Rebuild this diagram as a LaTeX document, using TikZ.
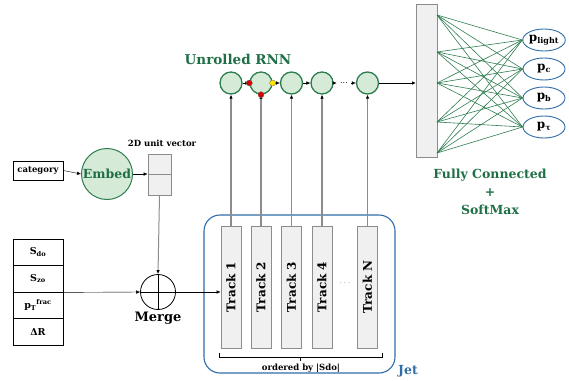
\documentclass[tikz,border=0pt]{standalone}
\usepackage{fontspec}
\setmainfont{DejaVu Serif}
\usetikzlibrary{arrows.meta,shapes.geometric}
\definecolor{gr}{HTML}{2E7D4F}
\definecolor{grtext}{HTML}{1F6F45}
\definecolor{grfill}{HTML}{D5EBD7}
\definecolor{bl}{HTML}{2F6CA8}
\definecolor{gbox}{HTML}{F0F0F0}
\definecolor{gline}{HTML}{8C8C8C}
\tikzset{
  arr/.style={-{Latex[length=4pt,width=3.5pt]}},
  garr/.style={gline, line width=1.3pt, -{Latex[length=4pt,width=3.5pt,color=black]}},
  featbox/.style={draw, line width=0.8pt, minimum width=50pt, minimum height=26.5pt, inner sep=0pt, font=\bfseries\fontsize{9.5}{10}\selectfont},
  trk/.style={draw=gline, fill=gbox, line width=0.9pt, minimum width=20pt, minimum height=122pt, inner sep=0pt},
  trklabel/.style={rotate=90, font=\bfseries\fontsize{12}{13}\selectfont},
  rnn/.style={circle, draw=gr, fill=grfill, line width=1.3pt, minimum size=22pt, inner sep=0pt},
  outell/.style={ellipse, draw=bl, line width=0.9pt, minimum width=42pt, minimum height=22pt, inner sep=0pt, font=\bfseries\fontsize{12}{13}\selectfont},
  fcline/.style={gr, line width=0.6pt},
  dotnode/.style={circle, inner sep=0pt, minimum size=6pt, draw=black!60, line width=0.3pt}
}
\begin{document}
\begin{tikzpicture}[x=1pt,y=-1pt]
\useasboundingbox (0,0) rectangle (569,380);

% category & embed
\node[draw, line width=0.8pt, minimum width=50pt, minimum height=19pt, inner sep=0pt, font=\bfseries\fontsize{8.5}{9}\selectfont] (cat) at (38,170.5) {category};
\node[circle, draw=gr, fill=grfill, line width=1pt, minimum size=51pt, inner sep=0pt, text=grtext, font=\bfseries\fontsize{12.5}{13}\selectfont] (emb) at (107,174) {Embed};
\node[draw=gline, fill=gbox, line width=0.8pt, minimum width=23pt, minimum height=20.5pt, inner sep=0pt] (v1) at (159.5,164.25) {};
\node[draw=gline, fill=gbox, line width=0.8pt, minimum width=23pt, minimum height=20.5pt, inner sep=0pt] (v2) at (159.5,184.75) {};
\node[font=\bfseries\fontsize{8.5}{9}\selectfont] (vlab) at (162,143) {2D unit vector};
\draw[arr] (cat.east) -- (emb.west);
\draw[arr] (emb.east) -- (emb.east -| v1.west);

% features
\node[featbox] (f1) at (38,252.25) {S\textsubscript{do}};
\node[featbox] (f2) at (38,278.75) {S\textsubscript{zo}};
\node[featbox] (f3) at (38,305.25) {p\textsubscript{T}\textsuperscript{frac}};
\node[featbox] (f4) at (38,331.75) {ΔR};

% merge
\node[circle, draw, line width=0.8pt, minimum size=35pt, inner sep=0pt] (mg) at (158,292) {};
\draw[line width=0.6pt] (mg.north) -- (mg.south) (mg.west) -- (mg.east);
\node[font=\bfseries\fontsize{13}{14}\selectfont] (mglab) at (158,318) {Merge};
\draw[gline, line width=1pt, -{Latex[length=4pt,width=3.5pt,color=black]}] (v2.south) -- (mg.north);
\draw[arr] (f2.south east) -- (mg.west);

% jet
\node[draw=bl, line width=1.1pt, rounded corners=16pt, minimum width=191pt, minimum height=158pt] (jet) at (299.5,294) {};
\node[text=bl, font=\bfseries\fontsize{12.5}{13}\selectfont] (jetlab) at (408,371) {Jet};

% tracks
\node[trk] (t1) at (231,287) {};
\node[trk] (t2) at (261,287) {};
\node[trk] (t3) at (291.5,287) {};
\node[trk] (t4) at (322,287) {};
\node[trk] (t5) at (367.5,287) {};
\node[trklabel] (t1l) at (t1) {Track 1};
\node[trklabel] (t2l) at (t2) {Track 2};
\node[trklabel] (t3l) at (t3) {Track 3};
\node[trklabel] (t4l) at (t4) {Track 4};
\node[trklabel] (t5l) at (t5) {Track N};
\node[text=black!60, font=\fontsize{9}{10}\selectfont] (tdots) at (345,283) {$\cdots$};
\draw[arr] (mg.east) -- (mg.east -| t1.west);

% bracket
\draw[line width=0.6pt] (219,353) -- (219,357.5) -- (382,357.5) -- (382,353) (300.5,357.5) -- (300.5,361);
\node[font=\bfseries\fontsize{8.5}{9}\selectfont] (ord) at (301,368) {ordered by |Sdo|};

% RNN
\node[text=grtext, font=\bfseries\fontsize{13.5}{14}\selectfont] (rnnlab) at (238,59) {Unrolled RNN};
\node[rnn] (r1) at (231,83) {};
\node[rnn] (r2) at (261,83) {};
\node[rnn] (r3) at (291.5,83) {};
\node[rnn] (r4) at (322,83) {};
\node[rnn] (r5) at (367.5,83) {};
\node[font=\fontsize{8}{9}\selectfont] (rdots) at (344,83) {...};
\draw[arr] (r1) -- (r2);
\draw[arr] (r2) -- (r3);
\draw[arr] (r3) -- (r4);
\draw[arr] (r4) -- (rdots);
\draw[arr] (rdots) -- (r5);
\draw[garr] (t1.north) -- (r1.south);
\draw[garr] (t2.north) -- (r2.south);
\draw[garr] (t3.north) -- (r3.south);
\draw[garr] (t4.north) -- (r4.south);
\draw[garr] (t5.north) -- (r5.south);
\node[dotnode, fill=red!85!black] (d1) at (r2.west) {};
\node[dotnode, fill=red!85!black] (d2) at (r2.south) {};
\node[dotnode, fill=yellow!90!orange] (d3) at (r2.east) {};

% fully connected
\node[draw=gline, fill=gbox, line width=1pt, minimum width=21pt, minimum height=153pt, inner sep=0pt] (fc) at (427,80.5) {};
\draw[line width=1pt, arr] (r5.east) -- (r5.east -| fc.west);
\coordinate (h1) at (437,15);
\coordinate (h2) at (437,52);
\coordinate (h3) at (437,83);
\coordinate (h4) at (437,122);
\coordinate (h5) at (437,153);
\node[outell] (o1) at (544,40) {p\textsubscript{light}};
\node[outell] (o2) at (544,69) {p\textsubscript{c}};
\node[outell] (o3) at (544,98) {p\textsubscript{b}};
\node[outell] (o4) at (544,127) {p\textsubscript{τ}};
\foreach \h in {h1,h2,h3,h4,h5}{
  \foreach \o in {o1,o2,o3,o4}{
    \draw[fcline] (\h) -- (\o.west);
  }
}
\node[text=grtext, font=\bfseries\fontsize{12.5}{18}\selectfont, align=center] (fclab) at (490,192) {Fully Connected\\+\\SoftMax};
\end{tikzpicture}
\end{document}
